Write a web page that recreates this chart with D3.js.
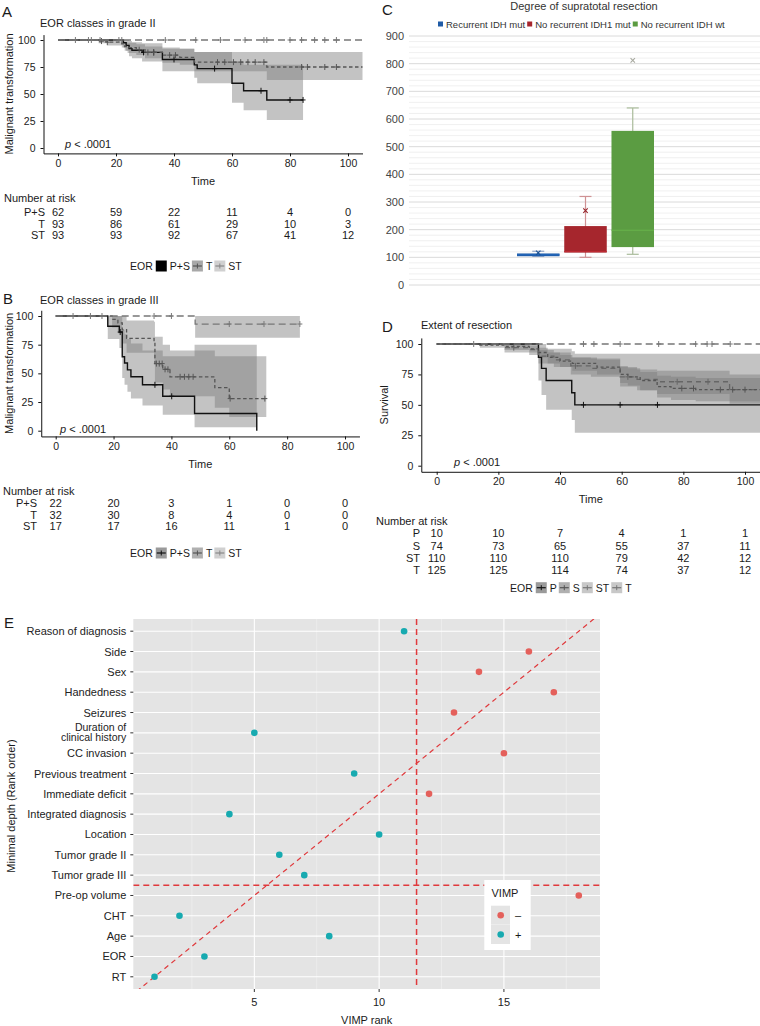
<!DOCTYPE html>
<html><head><meta charset="utf-8">
<script src="https://cdn.jsdelivr.net/npm/d3@7"></script>
<style>body{margin:0;background:#fff}svg{display:block;font-family:"Liberation Sans",Arial,Helvetica,sans-serif}</style>
</head><body><svg id="c" width="760" height="1026"></svg>
<script>
// ---------------- DATA ----------------
const timeTicks = [0, 20, 40, 60, 80, 100];
const survTicks = [0, 25, 50, 75, 100];

// Panel A: EOR classes in grade II   rows: [time, survival, lower, upper]
const A_strata = ["P+S", "T", "ST"];
const A_PS = [[0,100,100,100],[22.5,97.5,93,100],[23.5,95,90,100],[24.5,92,85,99],[25.5,90.5,83,98],[29,88.5,80,97],[36,82,71,92],[47,77,65,89],[48,73.5,60,89],[60,60,42,80],[64,53,35,77],[72,44.5,26,77]];
const A_T  = [[0,100,100,100],[14,99,97,100],[17,98,95,100],[22,96.5,93,100],[23,94,90,98],[24,93,88,97.5],[27,91,86,96],[30,88.5,83,94],[36,86,79,93],[42,84,77,92],[47,79.5,71,89],[72,75,63,89]];
const A_ST = [[0,100,100,100]];
const A_end = [84.5, 105, 105];
const A_PS_cens = [29.5, 33, 40, 54, 70, 80, 84.5];
const A_T_cens  = [15, 17, 28, 31, 33, 38.5, 40.5, 55, 57.5, 60.5, 63, 65.5, 68, 71, 84, 86, 92, 96];
const A_ST_cens = [6, 10.5, 11.5, 14.5, 21, 22, 37, 47.5, 56, 64.5, 71, 72, 80, 84, 88.5, 92, 96];
const A_risk_PS = [62, 59, 22, 11, 4, 0];
const A_risk_T  = [93, 86, 61, 29, 10, 3];
const A_risk_ST = [93, 93, 92, 67, 41, 12];

// Panel B: EOR classes in grade III
const B_strata = ["P+S", "T", "ST"];
const B_PS = [[0,100,100,100],[18,91,80,100],[22,86,72,100],[23,64.5,46,88],[23.8,59,40,84],[24.8,53,34,80],[26,47,28,76],[30,40,22,70],[37,30,14,65],[48,15,3,75],[69.5,0,0,0]];
const B_T  = [[0,100,100,100],[19.5,97,90,100],[21.5,94,85,100],[23,88,76,100],[24.5,80.5,68,96],[34,77.5,62,95],[34.3,58.5,42,82],[37,53.5,36,75],[39.5,47,30,70],[55,37.5,20,65],[60,28,12,65]];
const B_ST = [[0,100,100,100],[48.2,93,81,100]];
const B_end = [69.5, 72.8, 84.4];
const B_PS_cens = [22.3, 34.3, 40.1];
const B_T_cens  = [34.8, 35.8, 36.8, 37.8, 38.8, 43, 44.5, 46, 47.5, 60.3, 72.3];
const B_ST_cens = [6, 12, 16, 34, 40, 60, 72, 84.4];
const B_risk_PS = [22, 20, 3, 1, 0, 0];
const B_risk_T  = [32, 30, 8, 4, 0, 0];
const B_risk_ST = [17, 17, 16, 11, 1, 0];

// Panel D: Extent of resection
const D_strata = ["P", "S", "ST", "T"];
const D_P  = [[0,100,100,100],[33,89,70,100],[34,80,58,100],[35.5,70,46,96],[43.8,60,37.5,94],[44.8,50,27,92]];
const D_S  = [[0,100,100,100],[22,97,93,100],[30,95.5,91,99],[33,90,84,95],[38,87,81,93],[43.5,82,75,89],[50,80,73,88],[59.5,73,65,81],[65,71,62,79],[71.5,69,59,78],[95,62.5,51,75]];
const D_ST = [[0,100,100,100]];
const D_T  = [[0,100,100,100],[14,99,97,100],[22,98,95,100],[30,96,93,99],[33,93,89,97],[36,89,84,93],[40,86,81,91],[44,84,78,89],[52,81,75,87],[59.5,75,68,82],[62,73,66,80],[66,70,62,77],[71.5,65,56,74],[76,63.5,54,73],[84,62.5,53,72]];
const D_end = [105, 105, 105, 105];
const D_P_cens  = [47.6, 59.5, 71.6];
const D_S_cens  = [25, 45, 62, 78, 88];
const D_ST_cens = [12, 47.6, 51, 59.5, 72, 84, 87.7, 89.3, 95.2];
const D_T_cens  = [79.5, 83.3, 92, 96, 100];
const D_risk_P  = [10, 10, 7, 4, 1, 1];
const D_risk_S  = [74, 73, 65, 55, 37, 11];
const D_risk_ST = [110, 110, 110, 79, 42, 12];
const D_risk_T  = [125, 125, 114, 74, 37, 12];

// Panel C: Degree of supratotal resection (box plot)
const C_groups = ["Recurrent IDH mut", "No recurrent IDH1 mut", "No recurrent IDH wt"];
const C_min    = [104, 100, 111];
const C_q1     = [104, 117, 137];
const C_median = [109, 121, 198];
const C_q3     = [114, 213, 557];
const C_max    = [122, 320, 640];
const C_mark   = [116, 269, 812];
const C_ticks  = [0, 100, 200, 300, 400, 500, 600, 700, 800, 900];

// Panel E: minimal depth vs VIMP rank
const E_vars = ["Reason of diagnosis","Side","Sex","Handedness","Seizures","Duration of\nclinical history","CC invasion","Previous treatment","Immediate deficit","Integrated diagnosis","Location","Tumor grade II","Tumor grade III","Pre-op volume","CHT","Age","EOR","RT"];
const E_vimpRank = [11, 16, 14, 17, 13, 5, 15, 9, 12, 4, 10, 6, 7, 18, 2, 8, 3, 1];
const E_sign = ["+","–","–","–","–","+","–","+","–","+","+","+","+","–","+","+","+","+"];
const E_xTicks = [5, 10, 15];
const E_vLine = 11.5, E_hLine = 5.5;

// ---------------- DRAW ----------------
const svg = d3.select("#c");
svg.append("rect").attr("width",760).attr("height",1026).attr("fill","#fff");
const FONT_TXT = "#1a1a1a";

function txt(g, x, y, s, size, opts={}) {
  const t = g.append("text").attr("x",x).attr("y",y).attr("font-size",size).attr("fill",opts.fill||FONT_TXT).text(s);
  if (opts.anchor) t.attr("text-anchor",opts.anchor);
  if (opts.style) t.attr("font-style",opts.style);
  if (opts.rotate) t.attr("transform",`rotate(-90,${x},${y})`);
  return t;
}
function range5(a0, a100){ const k=(a100-a0)/100; return [a0-5*k, a0+105*k]; }
function survAt(data, t){ let s=data[0][1]; data.forEach(d=>{ if(d[0]<=t) s=d[1]; }); return s; }

function drawKM(o) {
  const g = svg.append("g");
  const x = d3.scaleLinear().domain([-5,105]).range(range5(o.x0, o.x100));
  const y = d3.scaleLinear().domain([-5,105]).range(range5(o.y0, o.y100));
  o.curves.forEach(c => {
    const last = c.data[c.data.length-1];
    const pts = c.data.concat([[c.end,last[1],last[2],last[3]]]);
    g.append("path").attr("d", d3.area().curve(d3.curveStepAfter).x(d=>x(d[0])).y0(d=>y(d[2])).y1(d=>y(d[3]))(pts))
      .attr("fill","#7a7a7a").attr("fill-opacity",0.45);
  });
  o.curves.forEach(c => {
    const last = c.data[c.data.length-1];
    const pts = c.data.concat([[c.end,last[1]]]);
    g.append("path").attr("d", d3.line().curve(d3.curveStepAfter).x(d=>x(d[0])).y(d=>y(d[1]))(pts))
      .attr("fill","none").attr("stroke",c.color).attr("stroke-width",c.width).attr("stroke-dasharray",c.dash||null);
    c.cens.forEach(t => {
      const cx = x(t), cy = y(survAt(c.data,t));
      g.append("line").attr("x1",cx).attr("x2",cx).attr("y1",cy-3).attr("y2",cy+3).attr("stroke",c.color).attr("stroke-width",1);
      g.append("line").attr("x1",cx-2.5).attr("x2",cx+2.5).attr("y1",cy).attr("y2",cy).attr("stroke",c.color).attr("stroke-width",1);
    });
  });
  const ax = g.append("g").attr("transform",`translate(0,${y.range()[0]})`)
    .call(d3.axisBottom(x).tickValues(timeTicks).tickSize(3).tickSizeOuter(0).tickPadding(3));
  const ay = g.append("g").attr("transform",`translate(${x.range()[0]},0)`)
    .call(d3.axisLeft(y).tickValues(survTicks).tickSize(3).tickSizeOuter(0).tickPadding(5));
  [ax, ay].forEach(a => { a.selectAll("text").attr("font-size",10.5).attr("fill","#222").attr("font-family",null);
    a.selectAll("path,line").attr("stroke","#111"); });
  txt(g, o.letterX, o.letterY, o.letter, 15);
  txt(g, o.titleX, o.titleY, o.title, 11);
  txt(g, o.ylabX, (o.y0+o.y100)/2, o.ylab, 11, {anchor:"middle", rotate:true});
  txt(g, (o.x0+o.x100)/2, o.timeY, "Time", 11, {anchor:"middle"});
  const pt = g.append("text").attr("x",o.pX).attr("y",o.pY).attr("font-size",11).attr("fill",FONT_TXT);
  pt.append("tspan").attr("font-style","italic").text("p");
  pt.append("tspan").text(" < .0001");
  txt(g, o.riskX, o.riskY, "Number at risk", 11);
  o.risk.forEach((r,i) => {
    const yy = o.riskRowY[i];
    txt(g, o.riskLabelX, yy, o.strata[i], 11, {anchor:"end"});
    r.forEach((v,j) => txt(g, x(timeTicks[j]), yy, v, 11, {anchor:"middle"}));
  });
  let cx = o.legX;
  const lt = txt(g, cx, o.legY+4, "EOR", 10.5);
  cx += lt.node().getComputedTextLength() + 3;
  o.strata.forEach((s,i) => {
    const k = o.keys[i];
    g.append("rect").attr("x",cx).attr("y",o.legY-5.5).attr("width",11).attr("height",11).attr("fill",k.fill);
    if (k.line) {
      g.append("line").attr("x1",cx+1).attr("x2",cx+10).attr("y1",o.legY).attr("y2",o.legY).attr("stroke",k.line).attr("stroke-width",1.2);
      g.append("line").attr("x1",cx+5.5).attr("x2",cx+5.5).attr("y1",o.legY-2.5).attr("y2",o.legY+2.5).attr("stroke",k.line).attr("stroke-width",1);
    }
    cx += 14;
    const l = txt(g, cx, o.legY+4, s, 10.5);
    cx += l.node().getComputedTextLength() + 2;
  });
}

drawKM({
  x0:58, x100:348, y0:148, y100:40,
  curves:[
    {data:A_PS, end:A_end[0], cens:A_PS_cens, color:"#111", width:1.4},
    {data:A_T,  end:A_end[1], cens:A_T_cens,  color:"#555", width:1.3, dash:"3.5,2.5"},
    {data:A_ST, end:A_end[2], cens:A_ST_cens, color:"#777", width:1.3, dash:"7,4"}],
  letter:"A", letterX:2, letterY:17, title:"EOR classes in grade II", titleX:40, titleY:27,
  ylab:"Malignant transformation", ylabX:13, timeY:185, pX:65, pY:148,
  riskX:4, riskY:202, riskRowY:[216,227.5,239], riskLabelX:45, strata:A_strata,
  risk:[A_risk_PS, A_risk_T, A_risk_ST],
  legX:130, legY:266,
  keys:[{fill:"#000"},{fill:"#a8a8a8", line:"#555"},{fill:"#d0d0d0", line:"#888"}]
});
drawKM({
  x0:55.7, x100:345, y0:430.7, y100:316,
  curves:[
    {data:B_PS, end:B_end[0], cens:B_PS_cens, color:"#111", width:1.4},
    {data:B_T,  end:B_end[1], cens:B_T_cens,  color:"#555", width:1.3, dash:"3.5,2.5"},
    {data:B_ST, end:B_end[2], cens:B_ST_cens, color:"#777", width:1.3, dash:"7,4"}],
  letter:"B", letterX:3, letterY:304, title:"EOR classes in grade III", titleX:40, titleY:304,
  ylab:"Malignant transformation", ylabX:13, timeY:468, pX:60, pY:433,
  riskX:3, riskY:494.5, riskRowY:[507,518.5,530], riskLabelX:37, strata:B_strata,
  risk:[B_risk_PS, B_risk_T, B_risk_ST],
  legX:130, legY:553,
  keys:[{fill:"#9a9a9a", line:"#111"},{fill:"#b0b0b0", line:"#555"},{fill:"#d0d0d0", line:"#888"}]
});
drawKM({
  x0:436.7, x100:745, y0:465.7, y100:344,
  curves:[
    {data:D_P,  end:D_end[0], cens:D_P_cens,  color:"#111", width:1.4},
    {data:D_S,  end:D_end[1], cens:D_S_cens,  color:"#666", width:1.3, dash:"5,4"},
    {data:D_ST, end:D_end[2], cens:D_ST_cens, color:"#777", width:1.3, dash:"7,4"},
    {data:D_T,  end:D_end[3], cens:D_T_cens,  color:"#555", width:1.3, dash:"3,2.5"}],
  letter:"D", letterX:382, letterY:332, title:"Extent of resection", titleX:421, titleY:329,
  ylab:"Survival", ylabX:388, timeY:503, pX:454, pY:465.5,
  riskX:376, riskY:525, riskRowY:[537,549.5,561.5,574], riskLabelX:420, strata:D_strata,
  risk:[D_risk_P, D_risk_S, D_risk_ST, D_risk_T],
  legX:510, legY:587.7,
  keys:[{fill:"#9a9a9a", line:"#111"},{fill:"#b0b0b0", line:"#555"},{fill:"#c8c8c8", line:"#777"},{fill:"#c8c8c8", line:"#777"}]
});

// Panel C
(function(){
  const g = svg.append("g");
  const y = d3.scaleLinear().domain([0,900]).range([285,36]);
  const x = d3.scaleBand().domain(C_groups).range([517,654]).paddingInner(0.1);
  const colors = ["#1f5ba6","#a6262d","#5b9c42"];
  const wcol = ["#8ea3c4","#cf9294","#a9bb9a"];
  const minor = d3.range(0,901,20).filter(v=>v%100!==0);
  g.selectAll(".mn").data(minor).enter().append("line").attr("x1",409).attr("x2",760)
    .attr("y1",d=>y(d)).attr("y2",d=>y(d)).attr("stroke","#ececec").attr("stroke-width",0.8);
  g.selectAll(".mj").data(C_ticks).enter().append("line").attr("x1",409).attr("x2",760)
    .attr("y1",d=>y(d)).attr("y2",d=>y(d)).attr("stroke","#d6d6d6").attr("stroke-width",0.9);
  g.selectAll(".tl").data(C_ticks).enter().append("text").attr("x",404).attr("y",d=>y(d)+4)
    .attr("text-anchor","end").attr("font-size",11).attr("fill","#444").text(d=>d);
  C_groups.forEach((grp,i)=>{
    const cx = x(grp)+x.bandwidth()/2;
    g.append("line").attr("x1",cx).attr("x2",cx).attr("y1",y(C_max[i])).attr("y2",y(C_min[i])).attr("stroke",wcol[i]).attr("stroke-width",1.2);
    [C_max[i],C_min[i]].forEach(v=>g.append("line").attr("x1",cx-6).attr("x2",cx+6).attr("y1",y(v)).attr("y2",y(v)).attr("stroke",wcol[i]).attr("stroke-width",1.2));
    g.append("rect").attr("x",x(grp)).attr("width",x.bandwidth()).attr("y",y(C_q3[i])).attr("height",y(C_q1[i])-y(C_q3[i])).attr("fill",colors[i]);
    g.append("line").attr("x1",x(grp)).attr("x2",x(grp)+x.bandwidth()).attr("y1",y(C_median[i])).attr("y2",y(C_median[i])).attr("stroke",d3.color(colors[i]).brighter(0.4)).attr("stroke-width",1);
    const my = y(C_mark[i]), mc = i===2? "#a8aaa0" : d3.color(colors[i]).darker(0.3);
    g.append("path").attr("d",`M${cx-2.2},${my-2.2}L${cx+2.2},${my+2.2}M${cx-2.2},${my+2.2}L${cx+2.2},${my-2.2}`).attr("stroke",mc).attr("stroke-width",1.1);
  });
  txt(g, 382, 15, "C", 15);
  txt(g, 584, 10, "Degree of supratotal resection", 11, {anchor:"middle", fill:"#333"});
  let lx = 438;
  C_groups.forEach((grp,i)=>{
    g.append("rect").attr("x",lx).attr("y",21.5).attr("width",5).attr("height",5).attr("fill",colors[i]);
    lx += 8;
    const t = txt(g, lx, 27.5, grp, 9.5, {fill:"#333"});
    lx += t.node().getComputedTextLength() + 2;
  });
})();

// Panel E
(function(){
  const g = svg.append("g");
  const L=133.3, R=600, T=619, B=989;
  const x = d3.scaleLinear().domain([0.15,18.85]).range([L,R]);
  const y = d3.scaleLinear().domain([0.4,18.6]).range([B,T]);
  const n = E_vars.length;
  const rankOf = i => n - i;
  g.append("rect").attr("x",L).attr("y",T).attr("width",R-L).attr("height",B-T).attr("fill","#e4e4e4");
  [2.5,7.5,12.5,17.5].forEach(v=>g.append("line").attr("x1",x(v)).attr("x2",x(v)).attr("y1",T).attr("y2",B).attr("stroke","#f2f2f2").attr("stroke-width",0.6));
  E_xTicks.forEach(v=>g.append("line").attr("x1",x(v)).attr("x2",x(v)).attr("y1",T).attr("y2",B).attr("stroke","#fff").attr("stroke-width",1.1));
  E_vars.forEach((v,i)=>g.append("line").attr("x1",L).attr("x2",R).attr("y1",y(rankOf(i))).attr("y2",y(rankOf(i))).attr("stroke","#fff").attr("stroke-width",1.1));
  svg.append("clipPath").attr("id","eclip").append("rect").attr("x",L).attr("y",T).attr("width",R-L).attr("height",B-T);
  const gc = g.append("g").attr("clip-path","url(#eclip)");
  const red = "#e0393c";
  gc.append("line").attr("x1",x(0)).attr("y1",y(0)).attr("x2",x(20)).attr("y2",y(20)).attr("stroke",red).attr("stroke-width",1.2).attr("stroke-dasharray","5,4");
  gc.append("line").attr("x1",x(E_vLine)).attr("x2",x(E_vLine)).attr("y1",T).attr("y2",B).attr("stroke",red).attr("stroke-width",1.5).attr("stroke-dasharray","6,4");
  gc.append("line").attr("x1",L).attr("x2",R).attr("y1",y(E_hLine)).attr("y2",y(E_hLine)).attr("stroke",red).attr("stroke-width",1.5).attr("stroke-dasharray","6,4");
  const col = s => s==="+" ? "#17aab0" : "#e4605b";
  E_vars.forEach((v,i)=>gc.append("circle").attr("cx",x(E_vimpRank[i])).attr("cy",y(rankOf(i))).attr("r",3.3).attr("fill",col(E_sign[i])));
  E_vars.forEach((v,i)=>{
    const yy = y(rankOf(i));
    g.append("line").attr("x1",L-3).attr("x2",L).attr("y1",yy).attr("y2",yy).attr("stroke","#333");
    const parts = v.split("\n");
    parts.forEach((p,k)=>{
      const off = parts.length===1 ? 4 : (k===0 ? -2 : 8.5);
      txt(g, L-7, yy+off, p, parts.length===1 ? 11 : 10.5, {anchor:"end", fill:"#222"});
    });
  });
  E_xTicks.forEach(v=>{
    g.append("line").attr("x1",x(v)).attr("x2",x(v)).attr("y1",B).attr("y2",B+3).attr("stroke","#333");
    txt(g, x(v), B+16.5, v, 11, {anchor:"middle", fill:"#222"});
  });
  txt(g, (L+R)/2, 1024, "VIMP rank", 11, {anchor:"middle"});
  txt(g, 15, 806, "Minimal depth (Rank order)", 11, {anchor:"middle", rotate:true});
  txt(g, 4, 628, "E", 15);
  g.append("rect").attr("x",484.3).attr("y",880).attr("width",46.4).attr("height",70).attr("fill","#fff");
  txt(g, 491.5, 897, "VIMP", 11);
  ["–","+"].forEach((s,k)=>{
    const yy = 905.7 + k*19.3;
    g.append("rect").attr("x",491).attr("y",yy).attr("width",19).attr("height",19).attr("fill","#e4e4e4");
    g.append("circle").attr("cx",500.7).attr("cy",yy+9.5).attr("r",3.3).attr("fill",col(s));
    txt(g, 515, yy+13.5, s, 11);
  });
})();
</script></body></html>
